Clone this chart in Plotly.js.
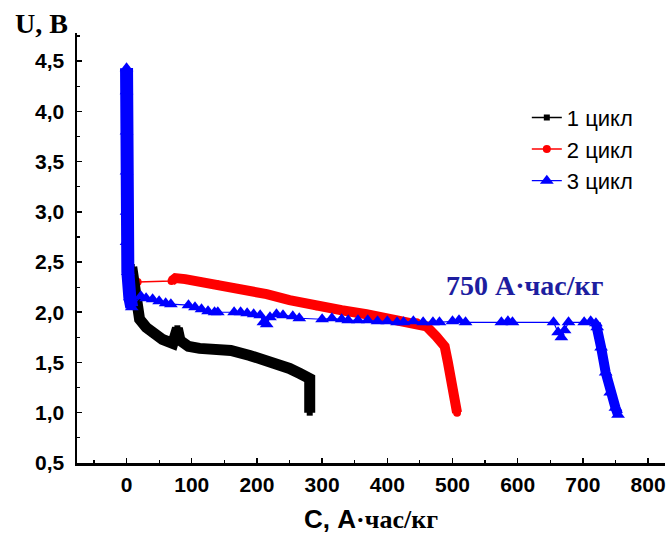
<!DOCTYPE html>
<html>
<head>
<meta charset="utf-8">
<script src="https://cdn.plot.ly/plotly-3.0.1.min.js"></script>
<style>html,body{margin:0;padding:0;background:#fff;}</style>
</head>
<body>
<div id="chart" style="width:672px;height:534px;"></div>
<script>
// Cycle 1
const blackC = [8, 10, 13, 15, 20, 30, 40, 55, 71, 75, 78, 82, 95, 112, 143, 160, 189, 210, 230, 250, 266, 281, 281, 281];
const blackU = [2.45, 2.35, 2.2, 2.08, 1.93, 1.85, 1.79, 1.73, 1.69, 1.75, 1.84, 1.72, 1.66, 1.64, 1.62, 1.62, 1.57, 1.53, 1.49, 1.44, 1.39, 1.34, 1.2, 1.0];
// Cycle 2
const redC = [0, 0, 0, 3, 17, 69, 75, 90, 110, 138, 160, 190, 215, 250, 291, 330, 368, 400, 445, 460, 475, 488, 493, 497, 502, 507];
const redU = [4.37, 4.28, 3.2, 2.5, 2.30, 2.31, 2.34, 2.33, 2.31, 2.28, 2.25, 2.21, 2.18, 2.12, 2.06, 2.02, 1.98, 1.94, 1.90, 1.86, 1.76, 1.66, 1.50, 1.35, 1.18, 1.0];
// Cycle 3
const blueC = [0, 0, 0, 0, 0, 0, 2, 5, 8, 22, 30, 40, 50, 60, 68, 95, 105, 115, 125, 135, 140, 165, 175, 185, 195, 205, 210, 215, 220, 230, 240, 255, 265, 300, 315, 330, 340, 355, 370, 385, 400, 415, 425, 440, 455, 470, 480, 500, 510, 520, 575, 585, 592, 655, 662, 667, 672, 678, 702, 712, 720, 722, 728, 735, 742, 750, 754];
const blueU = [4.43, 4.2, 3.8, 3.4, 3.0, 2.7, 2.4, 2.15, 2.05, 2.16, 2.14, 2.13, 2.11, 2.09, 2.08, 2.07, 2.05, 2.03, 2.01, 2.0, 2.0, 2.0, 2.0, 1.99, 1.98, 1.97, 1.9, 1.88, 1.95, 1.98, 1.97, 1.96, 1.94, 1.93, 1.94, 1.93, 1.92, 1.92, 1.92, 1.91, 1.91, 1.9, 1.9, 1.91, 1.9, 1.9, 1.9, 1.91, 1.92, 1.9, 1.9, 1.91, 1.9, 1.9, 1.8, 1.75, 1.82, 1.9, 1.9, 1.91, 1.89, 1.85, 1.65, 1.4, 1.2, 1.05, 0.98];

const seriesNames = ['1 цикл', '2 цикл', '3 цикл'];
const xTitle = 'С, А<span style="font-family:Liberation Serif">·час/кг</span>';
const yTitle = 'U, В';
const noteText = '750 А·час/кг';

const RED = '#ff0000', BLUE = '#0000ff', BLACK = '#000000';

const traces = [
  // red band (dense markers region)
  {x: redC.slice(5), y: redU.slice(5), mode: 'lines', line: {color: RED, width: 10}, showlegend: false, hoverinfo: 'skip'},
  {x: redC, y: redU, name: seriesNames[1], legendrank: 2, mode: 'lines+markers',
   line: {color: RED, width: 1.5}, marker: {symbol: 'circle', size: 8, color: RED}},
  // black band
  {x: blackC, y: blackU, mode: 'lines', line: {color: BLACK, width: 11}, showlegend: false, hoverinfo: 'skip'},
  {x: blackC, y: blackU, name: seriesNames[0], legendrank: 1, mode: 'lines+markers',
   line: {color: BLACK, width: 1.5}, marker: {symbol: 'square', size: 6, color: BLACK}},
  // blue bands
  {x: blueC.slice(0, 9), y: blueU.slice(0, 9), mode: 'lines', line: {color: BLUE, width: 13}, showlegend: false, hoverinfo: 'skip'},
  {x: blueC.slice(60), y: blueU.slice(60), mode: 'lines', line: {color: BLUE, width: 10}, showlegend: false, hoverinfo: 'skip'},
  {x: blueC, y: blueU, name: seriesNames[2], legendrank: 3, mode: 'lines+markers',
   line: {color: BLUE, width: 1.2}, marker: {symbol: 'triangle-up', size: 12, color: BLUE}}
];

const axisCommon = {
  showline: true, linewidth: 2.5, linecolor: '#000', mirror: false,
  showgrid: false, zeroline: false,
  ticks: 'inside', ticklen: 5, tickwidth: 1.5, tickcolor: '#000',
  tickfont: {family: 'Liberation Sans, Arial, sans-serif', size: 21, weight: 700, color: '#000'}
};

const layout = {
  width: 672, height: 534,
  margin: {l: 77, r: 7, t: 33, b: 71},
  paper_bgcolor: '#ffffff', plot_bgcolor: '#ffffff',
  separators: ', ',
  font: {family: 'Liberation Sans, Arial, sans-serif', color: '#000'},
  showlegend: true,
  xaxis: Object.assign({}, axisCommon, {
    range: [-76, 826], tick0: 0, dtick: 100, ticklabelstandoff: 1,
    minor: {ticks: 'inside', ticklen: 3, dtick: 50, tick0: 0, tickcolor: '#000', tickwidth: 1.2},
    title: {text: xTitle, standoff: 16, font: {family: 'Liberation Sans, Arial, sans-serif', size: 26, weight: 700, color: '#000'}}
  }),
  yaxis: Object.assign({}, axisCommon, {
    range: [0.499, 4.78], tick0: 0.5, dtick: 0.5, tickformat: '.1f', ticklabelstandoff: 6,
    minor: {ticks: 'inside', ticklen: 3, dtick: 0.25, tick0: 0.5, tickcolor: '#000', tickwidth: 1.2}
  }),
  legend: {
    x: 0.765, y: 0.852, xanchor: 'left', yanchor: 'top',
    bgcolor: 'rgba(0,0,0,0)',
    font: {family: 'Liberation Sans, Arial, sans-serif', size: 22, color: '#000'}
  },
  annotations: [
    {text: yTitle, xref: 'paper', yref: 'paper', x: -0.06, y: 1.021, xanchor: 'center', yanchor: 'middle',
     showarrow: false, font: {family: 'Liberation Serif, Times New Roman, serif', size: 28, weight: 700, color: '#000'}},
    {text: noteText, xref: 'x', yref: 'y', x: 611, y: 2.27, xanchor: 'center', yanchor: 'middle',
     showarrow: false, font: {family: 'Liberation Serif, Times New Roman, serif', size: 28, weight: 700, color: '#1e1ea0'}}
  ]
};

Plotly.newPlot('chart', traces, layout, {displayModeBar: false, staticPlot: true});
</script>
</body>
</html>
